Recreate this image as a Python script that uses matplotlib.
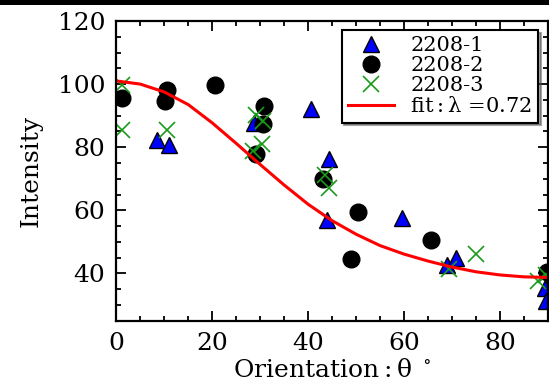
import matplotlib
matplotlib.use("Agg")
import matplotlib.pyplot as plt
from matplotlib.ticker import MultipleLocator
from matplotlib.patches import Rectangle

plt.rcParams['font.family'] = ['DejaVu Serif']
plt.rcParams['mathtext.fontset'] = 'dejavuserif'
plt.rcParams['font.size'] = 18

# 2208-1 (blue triangles)
theta1 = [8.4, 11.0, 28.7, 40.6, 44.3, 44.0, 59.5, 68.9, 70.8, 89.3, 89.6]
int1 = [82.2, 80.8, 87.7, 92.2, 76.3, 57.0, 57.7, 42.8, 45.0, 35.5, 31.4]

# 2208-2 (black circles)
theta2 = [1.1, 10.5, 10.1, 20.6, 30.8, 30.6, 29.2, 43.0, 50.4, 49.0, 65.6, 89.8]
int2 = [95.6, 98.2, 94.5, 99.8, 93.1, 87.5, 77.7, 69.8, 59.6, 44.4, 50.7, 40.3]

# 2208-3 (green crosses)
theta3 = [1.25, 1.25, 10.6, 29.2, 30.6, 30.3, 28.4, 43.5, 44.3, 69.3, 74.9, 87.9, 89.5]
int3 = [99.8, 85.3, 85.3, 90.3, 88.4, 81.0, 78.7, 71.2, 67.0, 41.5, 46.2, 37.7, 39.5]

# fit curve
fit_theta = [0, 5, 10, 15, 20, 25, 30, 35, 40, 45, 50, 55, 60, 65, 70, 75, 80, 85, 90]
fit_int = [101.0, 100.0, 97.5, 93.5, 87.7, 81.2, 74.5, 68.0, 61.9, 56.7, 52.4,
           48.8, 46.1, 43.9, 42.0, 40.5, 39.5, 38.9, 38.7]

fig = plt.figure(figsize=(5.49, 3.91), dpi=100)
ax = fig.add_axes([116.3 / 549, 1 - 320.7 / 391, (548 - 116.3) / 549, (320.7 - 21) / 391])

ax.plot(theta1, int1, linestyle='none', marker='^', markersize=12,
        markerfacecolor='#0000ff', markeredgecolor='black', markeredgewidth=1,
        label='2208-1')
ax.plot(theta2, int2, linestyle='none', marker='o', markersize=12,
        markerfacecolor='black', markeredgecolor='black', label='2208-2')
ax.plot(theta3, int3, linestyle='none', marker='x', markersize=12,
        markeredgecolor='#1a9a1a', markeredgewidth=1.2, label='2208-3')
ax.plot(fit_theta, fit_int, color='red', linewidth=2.2,
        label=r'$\mathrm{fit:\lambda}$ =0.72')

ax.set_xlim(0, 90)
ax.set_ylim(25, 120)
ax.xaxis.set_major_locator(MultipleLocator(20))
ax.xaxis.set_minor_locator(MultipleLocator(5))
ax.yaxis.set_major_locator(MultipleLocator(20))
ax.yaxis.set_minor_locator(MultipleLocator(5))
ax.tick_params(which='both', direction='in', top=True, right=True, width=1.3)
ax.tick_params(which='major', length=7, pad=8)
ax.tick_params(which='minor', length=3.5)
for s in ax.spines.values():
    s.set_linewidth(1.6)

ax.set_xlabel(r'$\mathrm{Orientation:\theta}\ ^\circ$', labelpad=3)
ax.set_ylabel('Intensity', labelpad=11)

leg = ax.legend(loc='upper right', bbox_to_anchor=(0.977, 0.970), borderaxespad=0,
                numpoints=1, fancybox=False, shadow=True, framealpha=1,
                labelspacing=0.05, handlelength=2.2, handletextpad=0.8,
                borderpad=0.3, fontsize=15)
leg.get_frame().set_edgecolor('black')
leg.get_frame().set_linewidth(1.5)

fig.patches.append(Rectangle((0, 1 - 4.5 / 391), 1, 4.5 / 391, transform=fig.transFigure,
                             facecolor='black', edgecolor='none'))

fig.savefig('out.png', dpi=100)
